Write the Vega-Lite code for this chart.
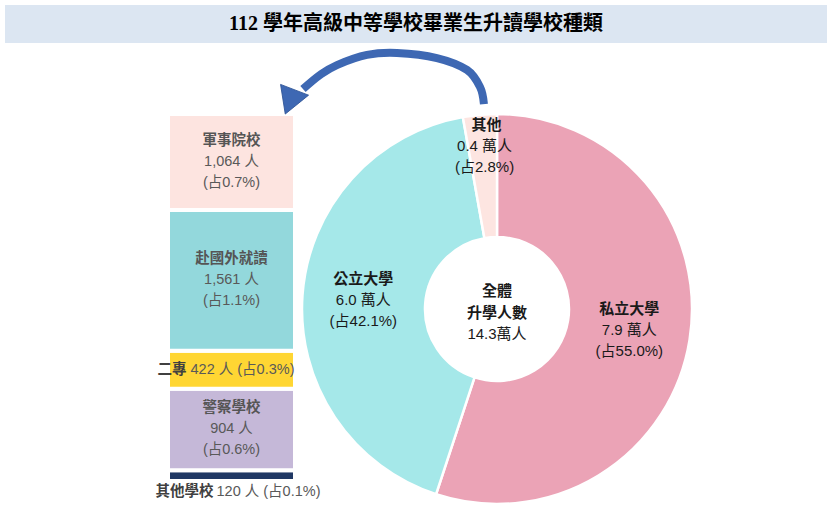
{
  "$schema": "https://vega.github.io/schema/vega-lite/v6.json",
  "background": "white",
  "padding": {"left": 5, "top": 5, "right": 5, "bottom": 5},
  "config": {"view": {"stroke": null}, "font": "Liberation Sans, Noto Sans CJK TC"},
  "datasets": {
    "univ": [
      {"type": "私立大學", "wan": 7.9, "share": 55.0},
      {"type": "公立大學", "wan": 6.0, "share": 42.1},
      {"type": "其他", "wan": 0.4, "share": 2.8}
    ],
    "others": [
      {"group": "其他", "school": "其他學校", "count": 120, "share": 0.1, "seq": 1},
      {"group": "其他", "school": "警察學校", "count": 904, "share": 0.6, "seq": 2},
      {"group": "其他", "school": "二專", "count": 422, "share": 0.3, "seq": 3},
      {"group": "其他", "school": "赴國外就讀", "count": 1561, "share": 1.1, "seq": 4},
      {"group": "其他", "school": "軍事院校", "count": 1064, "share": 0.7, "seq": 5}
    ],
    "arrow": [
      {"i": 0, "x": -0.067, "y": 1.051},
      {"i": 1, "x": -0.087, "y": 1.138},
      {"i": 2, "x": -0.154, "y": 1.226},
      {"i": 3, "x": -0.308, "y": 1.287},
      {"i": 4, "x": -0.513, "y": 1.313},
      {"i": 5, "x": -0.667, "y": 1.303},
      {"i": 6, "x": -0.821, "y": 1.251},
      {"i": 7, "x": -0.908, "y": 1.2},
      {"i": 8, "x": -0.995, "y": 1.128}
    ]
  },
  "bounds": "flush",
  "spacing": 71,
  "vconcat": [
    {
      "width": 822,
      "height": 38,
      "view": {"fill": "#DCE6F2", "stroke": null},
      "data": {"values": [{"title": "112 學年高級中等學校畢業生升讀學校種類"}]},
      "mark": {"type": "text", "font": "Liberation Serif, Noto Sans CJK TC", "fontSize": 20, "fontWeight": "bold", "color": "#000000"},
      "encoding": {"text": {"field": "title"}}
    },
    {
      "bounds": "flush",
      "spacing": 7,
      "resolve": {"scale": {"color": "independent"}},
      "hconcat": [
        {
          "width": 290,
          "height": 367,
          "data": {"name": "others"},
          "transform": [
            {"calculate": "format(datum.count, ',') + ' 人'", "as": "countLabel"},
            {"calculate": "'(占' + format(datum.share, '.1f') + '%)'", "as": "shareLabel"},
            {"calculate": "datum.countLabel + ' ' + datum.shareLabel", "as": "inlineLabel"}
          ],
          "encoding": {
            "x": {"field": "group", "type": "nominal", "axis": null, "scale": {"paddingInner": 0, "paddingOuter": 0.6417, "align": 1}},
            "order": {"field": "seq", "type": "quantitative"},
            "detail": {"field": "school"}
          },
          "layer": [
            {
              "mark": {"type": "bar", "stroke": "white", "strokeWidth": 4},
              "encoding": {
                "y": {"field": "count", "type": "quantitative", "stack": "zero", "axis": null, "scale": {"nice": false}},
                "color": {
                  "field": "school", "type": "nominal", "legend": null,
                  "scale": {
                    "domain": ["軍事院校", "赴國外就讀", "二專", "警察學校", "其他學校"],
                    "range": ["#FDE4E0", "#93D8DC", "#FFD633", "#C5B8D8", "#203864"]
                  }
                }
              }
            },
            {
              "encoding": {
                "y": {"field": "count", "type": "quantitative", "stack": "zero", "bandPosition": 0.5}
              },
              "layer": [
                {
                  "mark": {"type": "text", "fontSize": 14.5, "fontWeight": "bold", "color": "#555555", "dy": -21},
                  "encoding": {"text": {"condition": {"test": "datum.count > 500", "field": "school"}, "value": ""}}
                },
                {
                  "mark": {"type": "text", "fontSize": 14.5, "color": "#595959", "dy": 0},
                  "encoding": {"text": {"condition": {"test": "datum.count > 500", "field": "countLabel"}, "value": ""}}
                },
                {
                  "mark": {"type": "text", "fontSize": 14.5, "color": "#595959", "dy": 21},
                  "encoding": {"text": {"condition": {"test": "datum.count > 500", "field": "shareLabel"}, "value": ""}}
                },
                {
                  "mark": {"type": "text", "fontSize": 14.5, "fontWeight": "bold", "color": "#404040", "align": "right", "dx": -45},
                  "encoding": {"text": {"condition": {"test": "datum.school === '二專'", "field": "school"}, "value": ""}}
                },
                {
                  "mark": {"type": "text", "fontSize": 14.5, "color": "#595959", "align": "left", "dx": -41},
                  "encoding": {"text": {"condition": {"test": "datum.school === '二專'", "field": "inlineLabel"}, "value": ""}}
                },
                {
                  "mark": {"type": "text", "fontSize": 14.5, "fontWeight": "bold", "color": "#404040", "align": "right", "dx": -18, "dy": 16},
                  "encoding": {"text": {"condition": {"test": "datum.school === '其他學校'", "field": "school"}, "value": ""}}
                },
                {
                  "mark": {"type": "text", "fontSize": 14.5, "color": "#595959", "align": "left", "dx": -15, "dy": 16},
                  "encoding": {"text": {"condition": {"test": "datum.school === '其他學校'", "field": "inlineLabel"}, "value": ""}}
                }
              ]
            }
          ]
        },
        {
          "width": 390,
          "height": 390,
          "layer": [
            {
              "data": {"name": "univ"},
              "transform": [
                {"calculate": "format(datum.wan, '.1f') + ' 萬人'", "as": "amountLabel"},
                {"calculate": "'(占' + format(datum.share, '.1f') + '%)'", "as": "shareLabel"}
              ],
              "encoding": {
                "theta": {"field": "share", "type": "quantitative", "stack": true},
                "order": {"field": "share", "type": "quantitative", "sort": "descending"},
                "detail": {"field": "type"}
              },
              "layer": [
                {
                  "mark": {"type": "arc", "radius": 195, "radius2": 72, "stroke": "white", "strokeWidth": 2.5},
                  "encoding": {
                    "color": {
                      "field": "type", "type": "nominal", "legend": null,
                      "scale": {"domain": ["私立大學", "公立大學", "其他"], "range": ["#EBA3B6", "#A5E8E9", "#FDE5E1"]}
                    }
                  }
                },
                {
                  "mark": {"type": "text", "radius": 134, "dy": -21, "fontSize": 15, "fontWeight": "bold", "color": "#1a1a1a"},
                  "encoding": {"text": {"condition": {"test": "datum.share >= 10", "field": "type"}, "value": ""}}
                },
                {
                  "mark": {"type": "text", "radius": 134, "dy": 0, "fontSize": 15, "color": "#1a1a1a"},
                  "encoding": {"text": {"condition": {"test": "datum.share >= 10", "field": "amountLabel"}, "value": ""}}
                },
                {
                  "mark": {"type": "text", "radius": 134, "dy": 21, "fontSize": 15, "color": "#1a1a1a"},
                  "encoding": {"text": {"condition": {"test": "datum.share >= 10", "field": "shareLabel"}, "value": ""}}
                },
                {
                  "mark": {"type": "text", "radius": 164, "dx": 4, "dy": -21, "fontSize": 15, "fontWeight": "bold", "color": "#1a1a1a"},
                  "encoding": {"text": {"condition": {"test": "datum.share < 10", "field": "type"}, "value": ""}}
                },
                {
                  "mark": {"type": "text", "radius": 164, "dx": 2, "dy": 0, "fontSize": 15, "color": "#1a1a1a"},
                  "encoding": {"text": {"condition": {"test": "datum.share < 10", "field": "amountLabel"}, "value": ""}}
                },
                {
                  "mark": {"type": "text", "radius": 164, "dx": 2, "dy": 21, "fontSize": 15, "color": "#1a1a1a"},
                  "encoding": {"text": {"condition": {"test": "datum.share < 10", "field": "shareLabel"}, "value": ""}}
                }
              ]
            },
            {
              "data": {"name": "univ"},
              "transform": [
                {"aggregate": [{"op": "sum", "field": "wan", "as": "total"}]},
                {"calculate": "format(datum.total, '.1f') + '萬人'", "as": "totalLabel"}
              ],
              "layer": [
                {
                  "mark": {"type": "text", "dy": -18, "fontSize": 15, "fontWeight": "bold", "color": "#1a1a1a"},
                  "encoding": {"text": {"value": "全體"}}
                },
                {
                  "mark": {"type": "text", "dy": 3.5, "fontSize": 15, "fontWeight": "bold", "color": "#1a1a1a"},
                  "encoding": {"text": {"value": "升學人數"}}
                },
                {
                  "mark": {"type": "text", "dy": 25, "fontSize": 15, "color": "#1a1a1a"},
                  "encoding": {"text": {"field": "totalLabel"}}
                }
              ]
            },
            {
              "data": {"name": "arrow"},
              "mark": {"type": "line", "interpolate": "cardinal", "strokeWidth": 8, "color": "#3E68B3", "strokeCap": "butt"},
              "encoding": {
                "x": {"field": "x", "type": "quantitative", "axis": null, "scale": {"domain": [-1, 1], "nice": false, "zero": false}},
                "y": {"field": "y", "type": "quantitative", "axis": null, "scale": {"domain": [-1, 1], "nice": false, "zero": false}},
                "order": {"field": "i", "type": "quantitative"}
              }
            },
            {
              "data": {"values": [{"x": -1.062, "y": 1.062}]},
              "mark": {"type": "point", "shape": "triangle-up", "size": 900, "angle": 201, "filled": true, "opacity": 1, "color": "#3E68B3", "stroke": "#2F5597", "strokeWidth": 0.8},
              "encoding": {
                "x": {"field": "x", "type": "quantitative"},
                "y": {"field": "y", "type": "quantitative"}
              }
            }
          ]
        }
      ]
    }
  ]
}
